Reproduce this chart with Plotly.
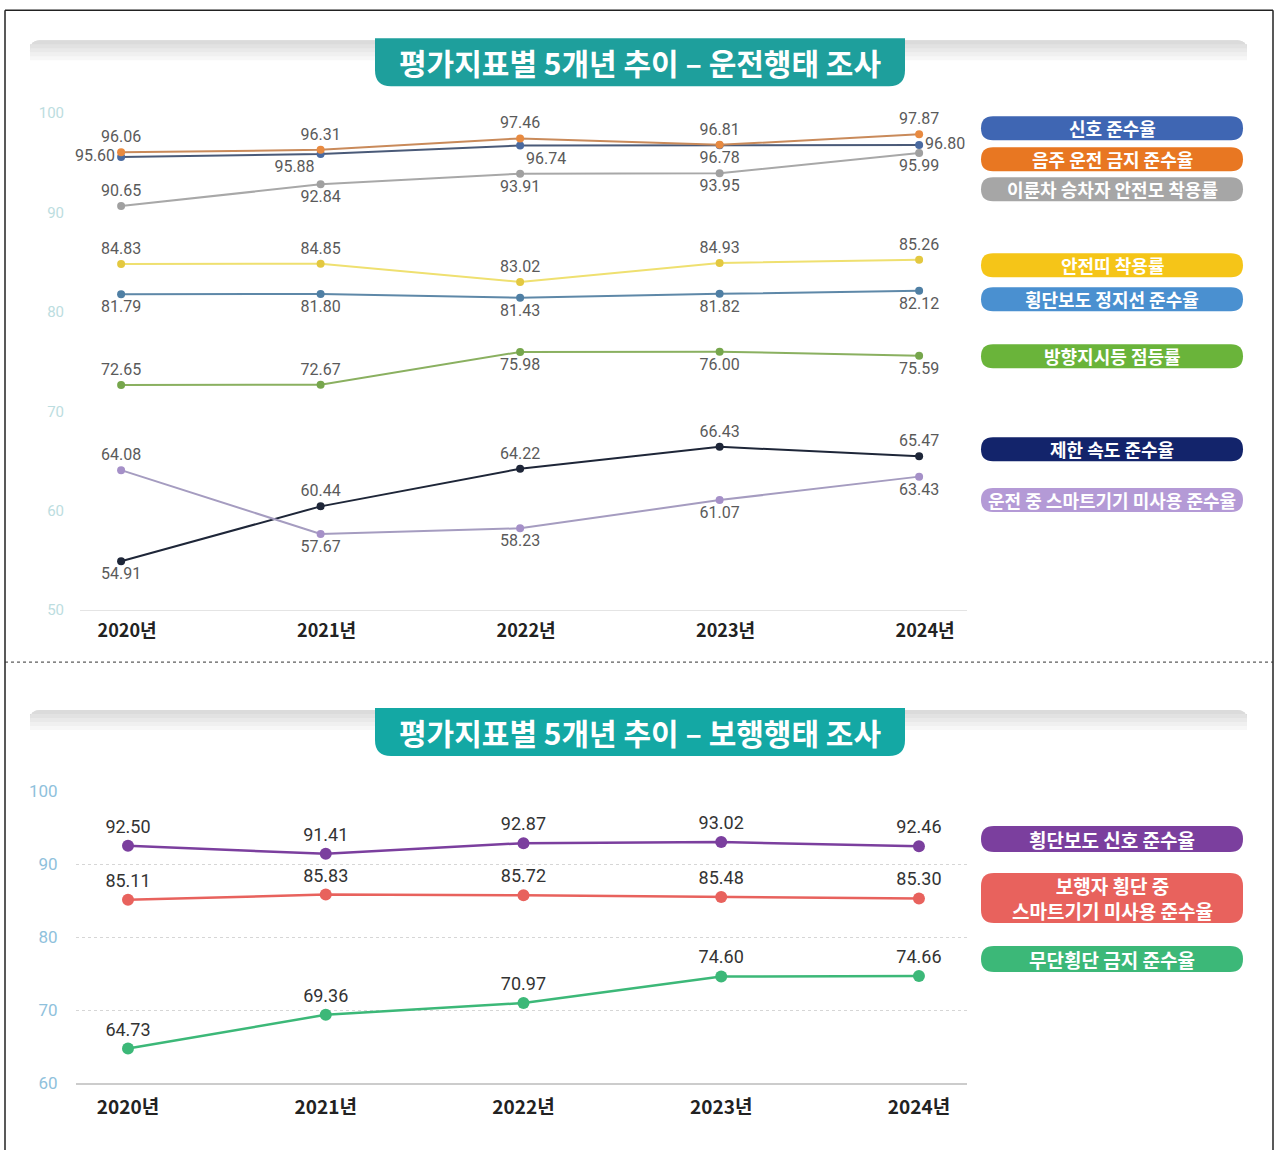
import plotly.graph_objects as go

W, H = 1275, 1170
S, YOFF = 0.983, 10  # compensation for the capture's vertical mapping

years = ["2020년", "2021년", "2022년", "2023년", "2024년"]

# ---- 운전행태 조사 (top chart) ----
drive_names = ["신호 준수율", "음주 운전 금지 준수율", "이륜차 승차자 안전모 착용률",
               "안전띠 착용률", "횡단보도 정지선 준수율", "방향지시등 점등률",
               "제한 속도 준수율", "운전 중 스마트기기 미사용 준수율"]
signal = [95.60, 95.88, 96.74, 96.78, 96.80]
drunk = [96.06, 96.31, 97.46, 96.81, 97.87]
helmet = [90.65, 92.84, 93.91, 93.95, 95.99]
seatbelt = [84.83, 84.85, 83.02, 84.93, 85.26]
stopline = [81.79, 81.80, 81.43, 81.82, 82.12]
turnsignal = [72.65, 72.67, 75.98, 76.00, 75.59]
speed = [54.91, 60.44, 64.22, 66.43, 65.47]
smart_drive = [64.08, 57.67, 58.23, 61.07, 63.43]

# ---- 보행행태 조사 (bottom chart) ----
walk_names = ["횡단보도 신호 준수율", "보행자 횡단 중<br>스마트기기 미사용 준수율", "무단횡단 금지 준수율"]
crosswalk = [92.50, 91.41, 92.87, 93.02, 92.46]
smart_walk = [85.11, 85.83, 85.72, 85.48, 85.30]
jaywalk = [64.73, 69.36, 70.97, 74.60, 74.66]


def px(x):
    return x / W


def py(y):
    v = 1 - (y / S - YOFF) / H
    return min(max(v, 0), 1)


def rrect(x0, y0, x1, y1, r, top=True, bottom=True):
    rt = r if top else 0
    rb = r if bottom else 0
    p = f"M {px(x0 + rt)},{py(y0)} L {px(x1 - rt)},{py(y0)} "
    if rt:
        p += f"Q {px(x1)},{py(y0)} {px(x1)},{py(y0 + rt)} "
    p += f"L {px(x1)},{py(y1 - rb)} "
    if rb:
        p += f"Q {px(x1)},{py(y1)} {px(x1 - rb)},{py(y1)} "
    p += f"L {px(x0 + rb)},{py(y1)} "
    if rb:
        p += f"Q {px(x0)},{py(y1)} {px(x0)},{py(y1 - rb)} "
    p += f"L {px(x0)},{py(y0 + rt)} "
    if rt:
        p += f"Q {px(x0)},{py(y0)} {px(x0 + rt)},{py(y0)} "
    return p + "Z"


fig = go.Figure()

NUMFONT = "Roboto, 'Noto Sans CJK KR', sans-serif"
KRFONT = "'Noto Sans CJK KR', 'Noto Sans', sans-serif"

top_series = [
    (signal, "#4a5a78", "#4a6aa0",
     ["middle left", "bottom left", "bottom right", "bottom center", "middle right"]),
    (drunk, "#c98a5a", "#e88a40", ["top center"] * 5),
    (helmet, "#a8a8a8", "#a0a0a0",
     ["top center", "bottom center", "bottom center", "bottom center", "bottom center"]),
    (seatbelt, "#efe070", "#e3c840", ["top center"] * 5),
    (stopline, "#5e88a8", "#4f7fa4", ["bottom center"] * 5),
    (turnsignal, "#8ab060", "#76a64c",
     ["top center", "top center", "bottom center", "bottom center", "bottom center"]),
    (speed, "#1e2638", "#1e2638",
     ["bottom center", "top center", "top center", "top center", "top center"]),
    (smart_drive, "#a59cc0", "#a590c8",
     ["top center", "bottom center", "bottom center", "bottom center", "bottom center"]),
]

for (vals, lc, mc, tpos), name in zip(top_series, drive_names):
    fig.add_trace(go.Scatter(
        x=years, y=vals, name=name, mode="lines+markers+text",
        line=dict(color=lc, width=2), marker=dict(color=mc, size=8),
        text=[f"{v:.2f}" for v in vals], textposition=tpos,
        textfont=dict(family=NUMFONT, size=16, color="#5a5a5a"),
        xaxis="x", yaxis="y", showlegend=False, cliponaxis=False))

bottom_series = [
    (crosswalk, "#7b3f9e"),
    (smart_walk, "#e8625d"),
    (jaywalk, "#3cb878"),
]
for (vals, c), name in zip(bottom_series, walk_names):
    fig.add_trace(go.Scatter(
        x=years, y=vals, name=name, mode="lines+markers+text",
        line=dict(color=c, width=2.5), marker=dict(color=c, size=12),
        text=[f"{v:.2f}" for v in vals], textposition="top center",
        textfont=dict(family=NUMFONT, size=18, color="#333333"),
        xaxis="x2", yaxis="y2", showlegend=False, cliponaxis=False))

shapes = []
annotations = []

# outer border and separator
shapes.append(dict(type="line", xref="paper", yref="paper", x0=px(5), x1=px(5), y0=py(10), y1=py(1150),
                   line=dict(color="#222", width=1.5)))
shapes.append(dict(type="line", xref="paper", yref="paper", x0=px(5), x1=px(1273), y0=py(10), y1=py(10),
                   line=dict(color="#222", width=1.5)))
shapes.append(dict(type="line", xref="paper", yref="paper", x0=px(1273), x1=px(1273), y0=py(10), y1=py(1150),
                   line=dict(color="#222", width=1.5)))
shapes.append(dict(type="line", xref="paper", yref="paper", x0=px(5), x1=px(1273), y0=py(662), y1=py(662),
                   line=dict(color="#333", width=1, dash="dot")))

# title banners
for ytop, title, col in [(38, "평가지표별 5개년 추이 – 운전행태 조사", "#1e9f9c"),
                         (708, "평가지표별 5개년 추이 – 보행행태 조사", "#14a8a4")]:
    grays = ["#f7f7f7", "#f0f0f0", "#e9e9e9", "#e2e2e2", "#dbdbdb"]
    for i, g in enumerate(grays):
        shapes.append(dict(type="path", xref="paper", yref="paper",
                           path=rrect(30, ytop + 2, 1247, ytop + 22 - 4 * i, 10, bottom=False),
                           fillcolor=g, line=dict(width=0), layer="below"))
    shapes.append(dict(type="path", xref="paper", yref="paper",
                       path=rrect(375, ytop, 905, ytop + 48, 16, top=False),
                       fillcolor=col, line=dict(width=0)))
    annotations.append(dict(x=px(640), y=py(ytop + 24), xref="paper", yref="paper", text=f"<b>{title}</b>",
                            showarrow=False, font=dict(family=KRFONT, size=30, color="white"),
                            xanchor="center", yanchor="middle"))

# legend pills (top)
top_pills = [(128, "#3f66b3"), (159, "#e87722"), (189, "#a6a6a6"), (265, "#f5c518"),
             (299, "#4a90d0"), (356, "#6ab43a"), (449, "#13246b"), (500, "#b49ad6")]
for (cy, col), name in zip(top_pills, drive_names):
    shapes.append(dict(type="path", xref="paper", yref="paper",
                       path=rrect(981, cy - 12, 1243, cy + 12, 12), fillcolor=col, line=dict(width=0)))
    annotations.append(dict(x=px(1112), y=py(cy), xref="paper", yref="paper", text=f"<b>{name}</b>",
                            showarrow=False, font=dict(family=KRFONT, size=18, color="white"),
                            xanchor="center", yanchor="middle"))

# legend pills (bottom)
bottom_pills = [(839, 13, "#7b3f9e"), (898, 25, "#e8625d"), (959, 13, "#3cb878")]
for (cy, hh, col), name in zip(bottom_pills, walk_names):
    shapes.append(dict(type="path", xref="paper", yref="paper",
                       path=rrect(981, cy - hh, 1243, cy + hh, 13), fillcolor=col, line=dict(width=0)))
    annotations.append(dict(x=px(1112), y=py(cy), xref="paper", yref="paper", text=f"<b>{name}</b>",
                            showarrow=False, font=dict(family=KRFONT, size=19, color="white"),
                            xanchor="center", yanchor="middle"))

fig.update_layout(
    width=W, height=H, margin=dict(l=0, r=0, t=0, b=0),
    paper_bgcolor="white", plot_bgcolor="rgba(0,0,0,0)",
    shapes=shapes, annotations=annotations,
    xaxis=dict(domain=[px(80), px(967)], anchor="y", type="category", range=[-0.206, 4.24],
               showgrid=False, zeroline=False, showline=True, linecolor="#e4e4e4", linewidth=1,
               tickfont=dict(family=KRFONT, size=18, color="#222"), ticks="outside", ticklen=4,
               tickcolor="rgba(0,0,0,0)", tickprefix="<b>", ticksuffix="</b>", ticklabelshift=6),
    yaxis=dict(domain=[py(610), py(113)], anchor="x", range=[50, 100], dtick=10,
               showgrid=False, zeroline=False, showline=False,
               tickfont=dict(family=NUMFONT, size=15, color="#bcdde0"),
               ticks="outside", ticklen=12, tickcolor="rgba(0,0,0,0)"),
    xaxis2=dict(domain=[px(76), px(967)], anchor="y2", type="category", range=[-0.263, 4.243],
                showgrid=False, zeroline=False, showline=True, linecolor="#cccccc", linewidth=1.5,
                tickfont=dict(family=KRFONT, size=19, color="#222"), ticks="outside", ticklen=6,
                tickcolor="rgba(0,0,0,0)", tickprefix="<b>", ticksuffix="</b>"),
    yaxis2=dict(domain=[py(1083), py(791)], anchor="x2", range=[60, 100], dtick=10,
                showgrid=True, gridcolor="#d6d6d6", griddash="dot", gridwidth=1,
                zeroline=False, showline=False,
                tickfont=dict(family=NUMFONT, size=17, color="#8fc1dc"),
                ticks="outside", ticklen=14, tickcolor="rgba(0,0,0,0)"),
)

fig.write_html("out.html")
